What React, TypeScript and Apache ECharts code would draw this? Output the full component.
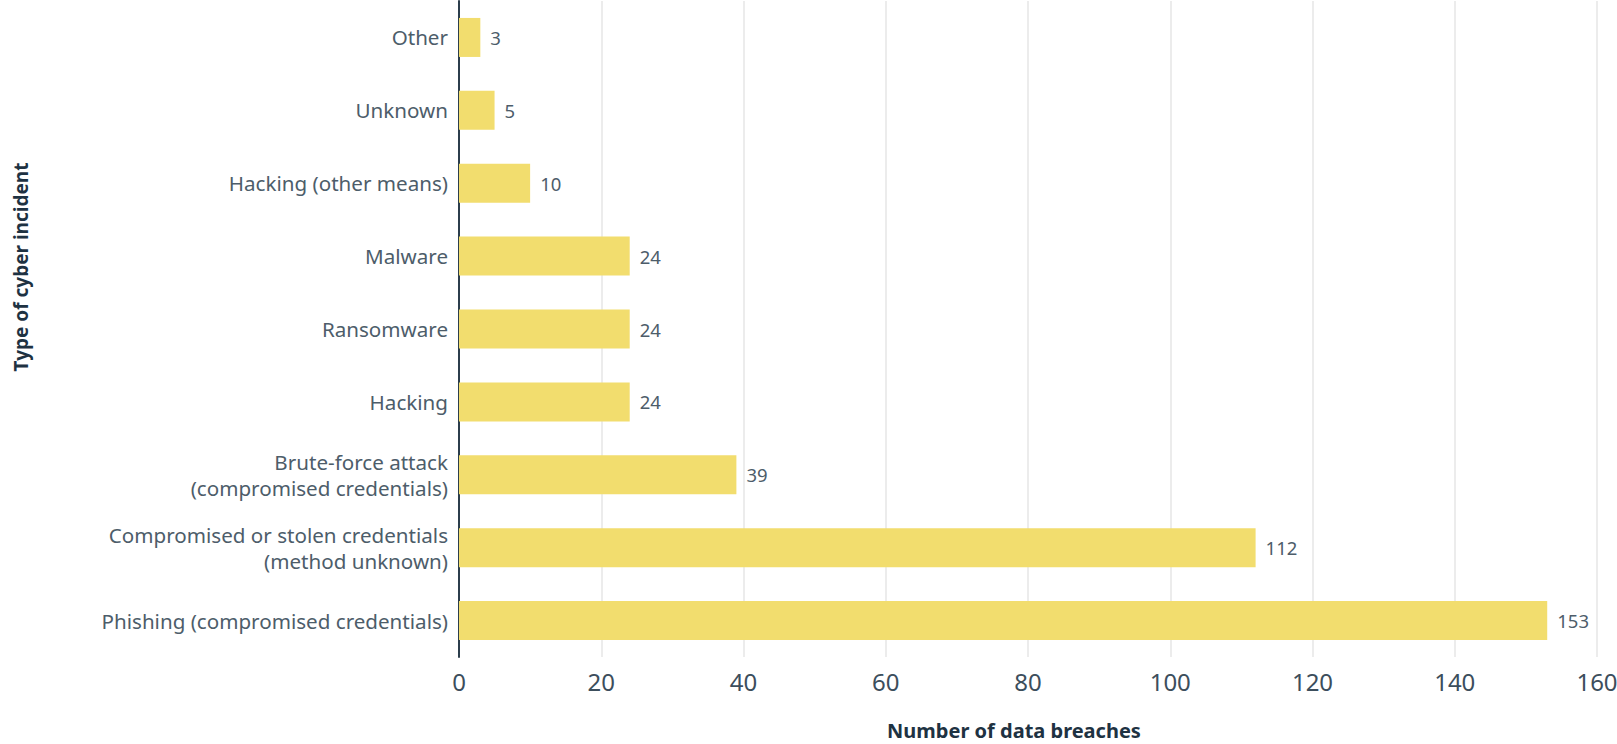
import React, { useEffect, useRef } from "react";
import * as echarts from "echarts";

const categories = [
  "Other",
  "Unknown",
  "Hacking (other means)",
  "Malware",
  "Ransomware",
  "Hacking",
  "Brute-force attack\n(compromised credentials)",
  "Compromised or stolen credentials\n(method unknown)",
  "Phishing (compromised credentials)",
];
const values = [3, 5, 10, 24, 24, 24, 39, 112, 153];
const xTitle = "Number of data breaches";
const yTitle = "Type of cyber incident";

const FONT = "'Noto Sans', 'Open Sans', sans-serif";
const TEXT = "#4d5d6a";
const DARK = "#1e3242";

export default function App() {
  const ref = useRef<HTMLDivElement>(null);
  useEffect(() => {
    document.body.style.margin = "0";
    const chart = echarts.init(ref.current!, null, { renderer: "svg" });
    chart.setOption({
      animation: false,
      backgroundColor: "#ffffff",
      textStyle: { fontFamily: FONT },
      grid: { left: 459, right: 20, top: 1, bottom: 87, outerBoundsMode: "none" },
      xAxis: {
        type: "value",
        min: 0,
        max: 160,
        interval: 20,
        axisLine: { show: false },
        axisTick: { show: false },
        splitLine: { show: true, lineStyle: { color: "#e6e6e6", width: 1.5 } },
        axisLabel: { fontSize: 24, color: "#3c4e5c", margin: 12, fontFamily: FONT },
      },
      yAxis: {
        type: "category",
        data: categories,
        inverse: true,
        axisLine: { show: true, lineStyle: { color: "#2c3e4c", width: 2 } },
        axisTick: { show: false },
        axisLabel: { fontSize: 20.6, lineHeight: 26, color: TEXT, margin: 11, fontFamily: FONT },
      },
      series: [
        {
          type: "bar",
          data: values,
          barWidth: 39,
          itemStyle: { color: "#f2dd6e" },
          label: {
            show: true,
            position: "right",
            distance: 10,
            fontSize: 18.5,
            color: TEXT,
            fontFamily: FONT,
          },
        },
      ],
      graphic: [
        {
          type: "text",
          x: 1014,
          y: 730,
          style: {
            text: xTitle,
            fontSize: 20,
            fontWeight: "bold",
            fill: DARK,
            align: "center",
            verticalAlign: "middle",
            fontFamily: FONT,
          },
        },
        {
          type: "text",
          x: 21,
          y: 267,
          rotation: Math.PI / 2,
          style: {
            text: yTitle,
            fontSize: 19,
            fontWeight: "bold",
            fill: DARK,
            align: "center",
            verticalAlign: "middle",
            fontFamily: FONT,
          },
        },
      ],
    });
    return () => chart.dispose();
  }, []);
  return (
    <div
      ref={ref}
      style={{ position: "fixed", left: 0, top: 0, width: 1617, height: 744 }}
    />
  );
}
